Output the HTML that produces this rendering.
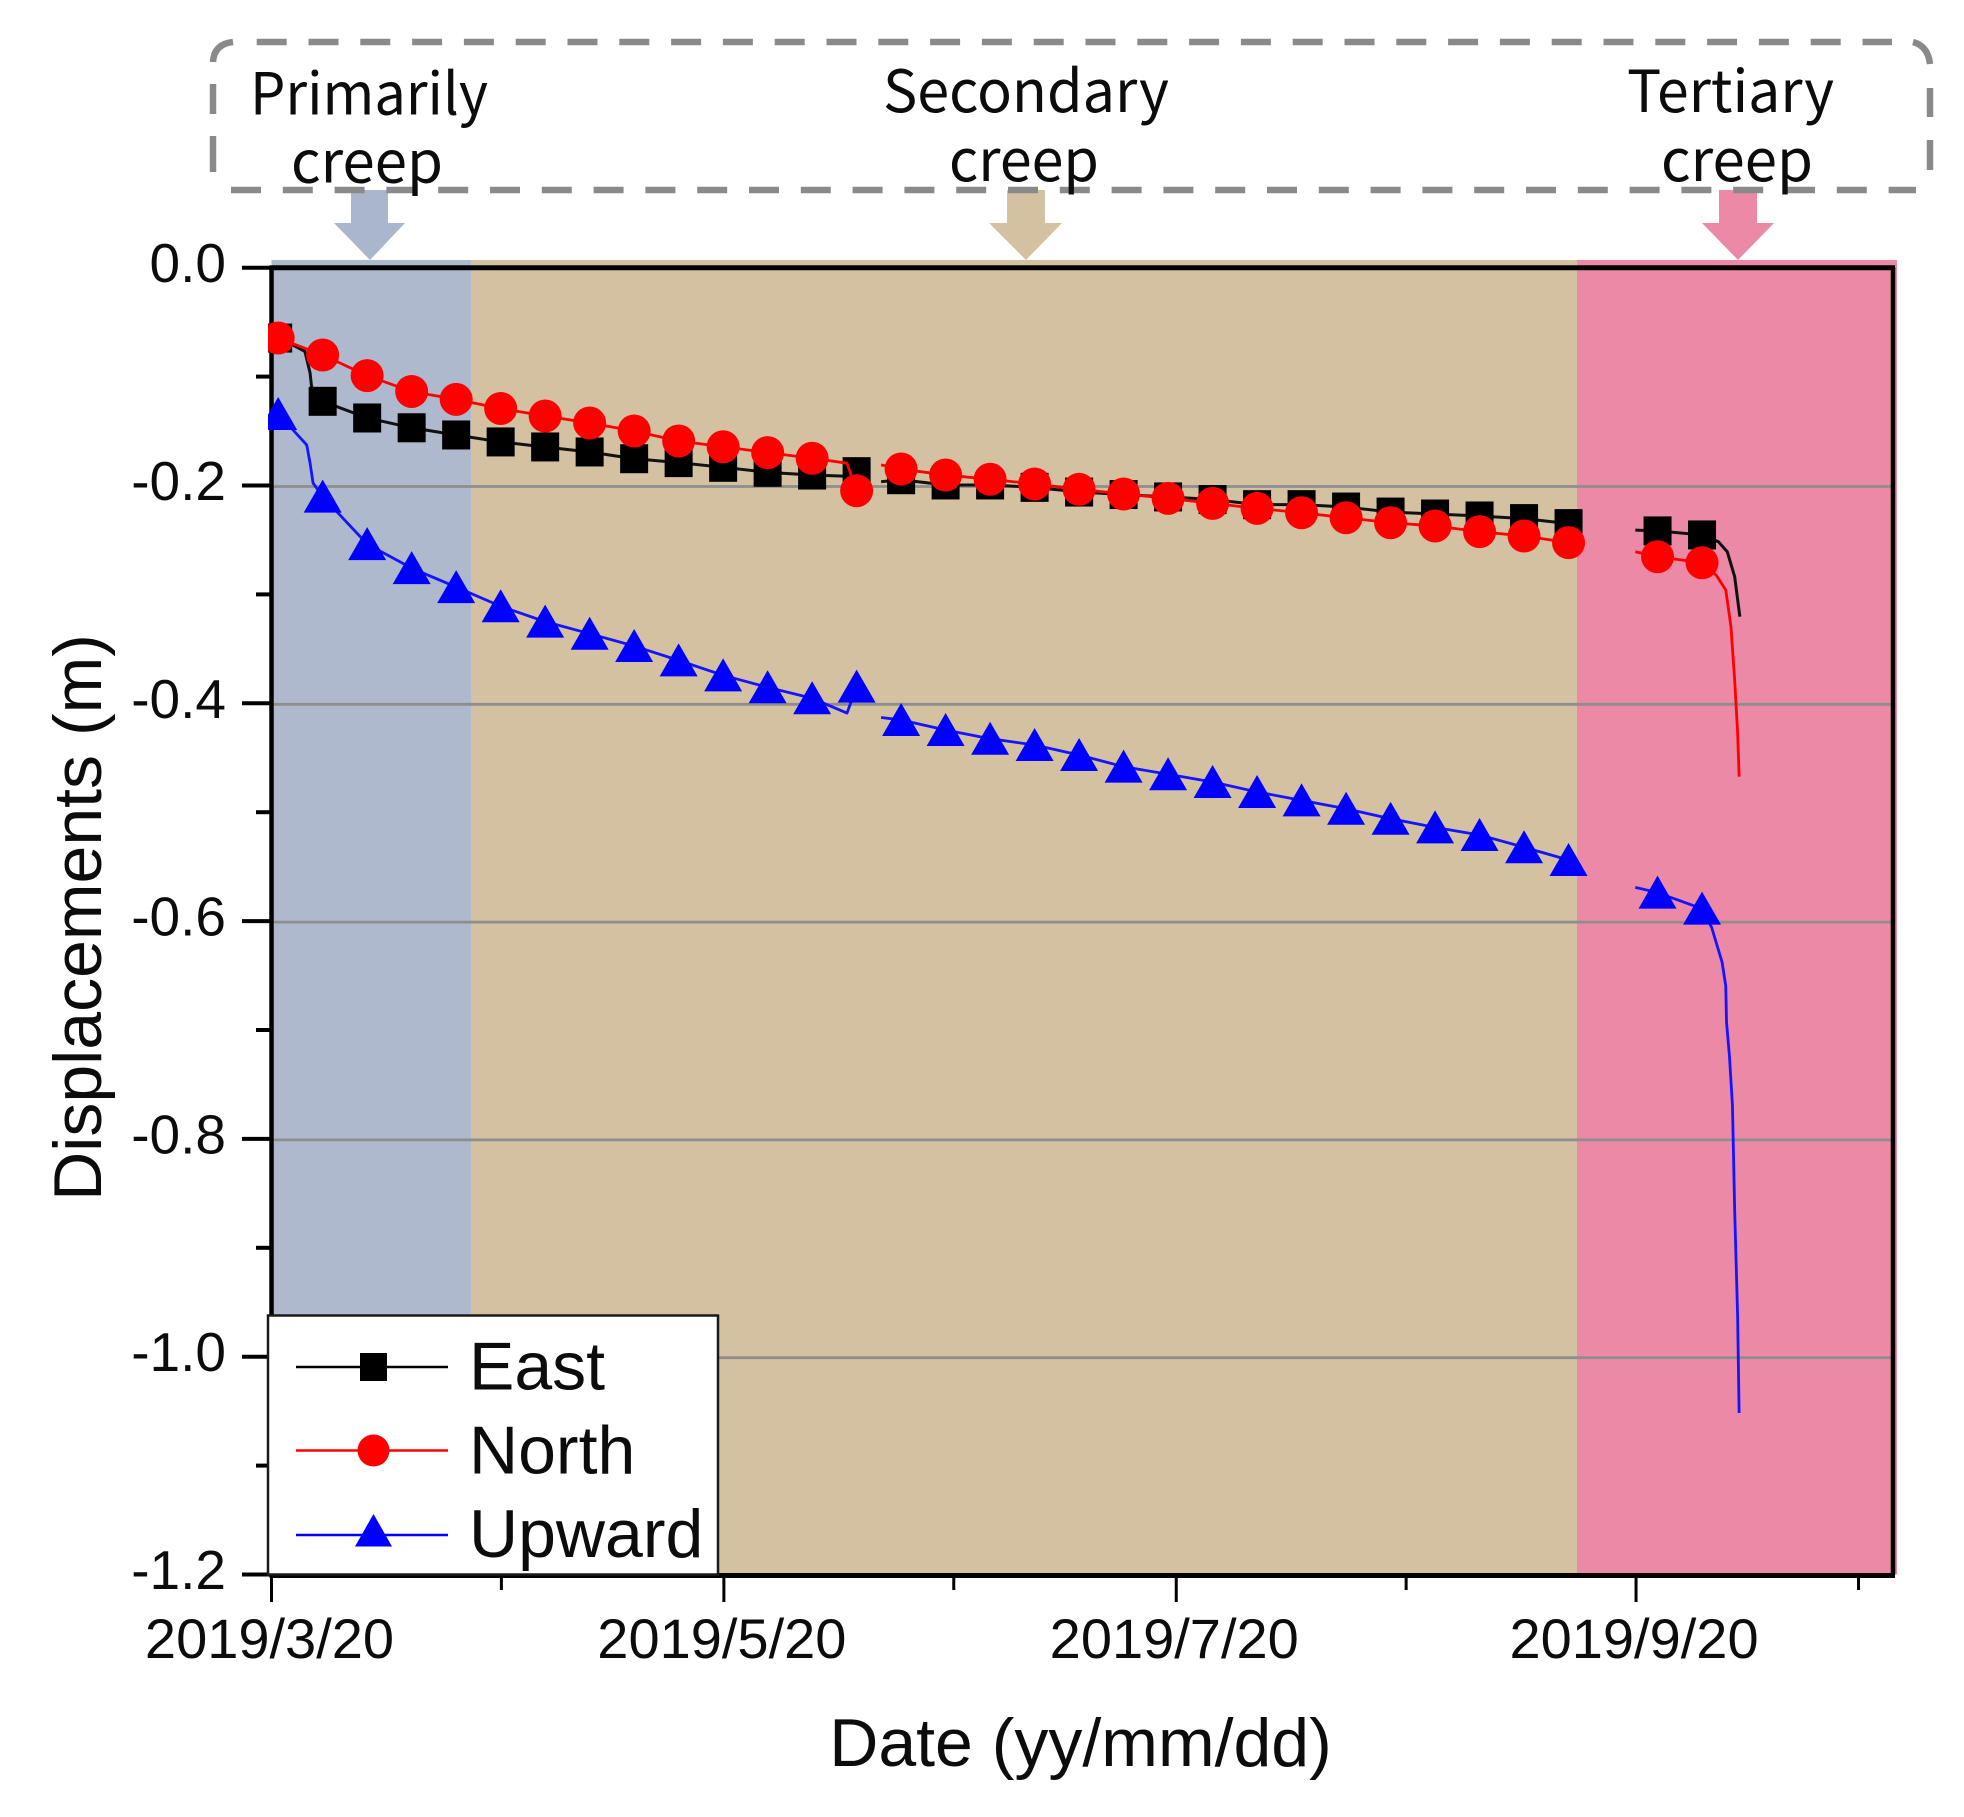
<!DOCTYPE html>
<html lang="en">
<head>
<meta charset="utf-8">
<title>Displacements over time with creep phases</title>
<style>
  html, body { margin: 0; padding: 0; background: #fff; }
  svg { display: block; }
  text { fill: #0c0c0c; font-family: "Liberation Sans", sans-serif; }
  .phase-text { font-family: "Noto Sans CJK KR", "Liberation Sans", sans-serif; font-size: 58px; }
</style>
</head>
<body>
<svg id="chart" xmlns="http://www.w3.org/2000/svg" width="1964" height="1817" viewBox="0 0 1964 1817">
  <defs>
    <clipPath id="plot-clip"><rect x="268" y="262" width="1630" height="1315"></rect></clipPath>
  </defs>

  <g id="arrows">
    <polygon fill="#a9b6cb" points="351,190 388,190 388,223 405,223 370,260 334,223 351,223"></polygon>
    <polygon fill="#d4c1a1" points="1007,190 1045,190 1045,223 1062,223 1026,260 989,223 1007,223"></polygon>
    <polygon fill="#ec89a6" points="1719,190 1757,190 1757,223 1774,223 1738,260 1702,223 1719,223"></polygon>
  </g>

  <g fill="none" stroke="#8a8a8a" stroke-width="6.5">
    <path d="M256.7 42 H1892" stroke-dasharray="30 21.8"></path>
    <path d="M231 190 H1916" stroke-dasharray="30 21.8"></path>
    <path d="M233 42 Q214 44 213 62"></path>
    <path d="M1913 42 Q1928 46 1930 64"></path>
    <path d="M213 84 V114 M213 136 V172"></path>
    <path d="M1930 88 V117 M1930 140 V170"></path>
  </g>

  <g>
    <text class="phase-text" x="250" y="114.5" textLength="238" lengthAdjust="spacingAndGlyphs">Primarily</text>
    <text class="phase-text" x="291" y="182.5" textLength="152" lengthAdjust="spacingAndGlyphs">creep</text>
    <text class="phase-text" x="883" y="112" textLength="286" lengthAdjust="spacingAndGlyphs">Secondary</text>
    <text class="phase-text" x="949" y="181" textLength="150" lengthAdjust="spacingAndGlyphs">creep</text>
    <text class="phase-text" x="1627" y="112" textLength="207" lengthAdjust="spacingAndGlyphs">Tertiary</text>
    <text class="phase-text" x="1661" y="181" textLength="152" lengthAdjust="spacingAndGlyphs">creep</text>
  </g>

  <g id="bands"></g>
  <g id="grid"></g>
  <g id="frame"></g>
  <g id="series" clip-path="url(#plot-clip)"></g>
  <g id="axes"></g>

  <text font-size="68" text-anchor="middle" transform="translate(101 917.5) rotate(-90)">Displacements (m)</text>
  <text font-size="68" text-anchor="middle" x="1080.5" y="1766">Date (yy/mm/dd)</text>

  <g>
    <rect x="268" y="1315.5" width="450" height="259" fill="#fff" stroke="#1a1a1a" stroke-width="2.5"></rect>
    <g>
      <line x1="296" x2="448" y1="1367" y2="1367" stroke="#000" stroke-width="2.6"></line>
      <rect x="360" y="1353" width="27" height="28" fill="#000"></rect>
      <text font-size="68" x="469" y="1389.5">East</text>
    </g>
    <g>
      <line x1="296" x2="448" y1="1450.5" y2="1450.5" stroke="#f00" stroke-width="2.6"></line>
      <circle cx="373.5" cy="1450.5" r="16" fill="#f00"></circle>
      <text font-size="68" x="469" y="1473.5">North</text>
    </g>
    <g>
      <line x1="296" x2="448" y1="1535" y2="1535" stroke="#00f" stroke-width="2.6"></line>
      <polygon points="373.5,1514 392,1546.5 355,1546.5" fill="#00f"></polygon>
      <text font-size="68" x="469" y="1557">Upward</text>
    </g>
  </g>
</svg>

<script>
// ---- Data ----
// Days are counted from 2019/3/20.
const bandEdgeDays = [0, 26.9, 176.04, 219.2];
const bandColors = ['#aeb9ce', '#d4c1a1', '#ec89a6'];
const bandNames = ['primary-creep-band', 'secondary-creep-band', 'tertiary-creep-band'];

const yMajorTicks = [0, -0.2, -0.4, -0.6, -0.8, -1.0, -1.2];
const yMajorLabels = ['0.0', '-0.2', '-0.4', '-0.6', '-0.8', '-1.0', '-1.2'];
const yMinorTicks = [-0.1, -0.3, -0.5, -0.7, -0.9, -1.1];
const xMajorDays = [0, 61, 122, 184];
const xMajorLabels = ['2019/3/20', '2019/5/20', '2019/7/20', '2019/9/20'];
const xMinorDays = [31, 92, 153, 214];

const markerDays = [0.9, 6.9, 12.9, 18.9, 24.9, 30.9, 36.9, 42.9, 48.9, 54.9, 60.9,
  66.9, 72.9, 78.9, 84.9, 90.9, 96.9, 102.9, 108.9, 114.9, 120.9, 126.9, 132.9,
  138.9, 144.9, 150.9, 156.9, 162.9, 168.9, 174.9, 180.9, 186.9, 192.9];

const eastValues = [-0.0646, -0.1227, -0.1380, -0.1470, -0.1536, -0.1600, -0.1646, -0.1692, -0.1754, -0.1790, -0.1833,
  -0.1879, -0.1904, -0.1873, -0.1947, -0.1995, -0.1995, -0.2017, -0.2060, -0.2083, -0.2105, -0.2129, -0.2176,
  -0.2176, -0.2198, -0.2244, -0.2262, -0.2280, -0.2304, -0.2350, null, -0.2417, -0.2454];
const northValues = [-0.0646, -0.0802, -0.0991, -0.1137, -0.1209, -0.1293, -0.1362, -0.1426, -0.1500, -0.1591, -0.1644,
  -0.1698, -0.1750, -0.2048, -0.1849, -0.1904, -0.1943, -0.1986, -0.2035, -0.2078, -0.2118, -0.2164, -0.2210,
  -0.2250, -0.2296, -0.2342, -0.2372, -0.2424, -0.2464, -0.2525, null, -0.2654, -0.2709];
const upwardValues = [-0.1343, -0.2102, -0.2538, -0.2759, -0.2933, -0.3109, -0.3250, -0.3361, -0.3474, -0.3606, -0.3743,
  -0.3853, -0.3954, -0.3847, -0.4153, -0.4245, -0.4325, -0.4383, -0.4475, -0.4582, -0.4652, -0.4723, -0.4814,
  -0.4891, -0.4968, -0.5060, -0.5139, -0.5209, -0.5322, -0.5439, null, -0.5739, -0.5886];

// Unmarked readings along each line (null = break in the record).
const eastLineDays = [2.9, 4.5, 5.2, 5.4, 77.6, 79.9, 82.2, 183.9, 195.1, 196.3, 197.3, 198.0];
const eastLineValues = [-0.0710, -0.0769, -0.0966, -0.1092, -0.1915, null, -0.1965, -0.2410, -0.2516, -0.2608, -0.2837, -0.3205];
const northLineDays = [77.6, 79.9, 82.2, 183.9, 194.8, 196.1, 196.8, 197.3, 197.7, 197.9];
const northLineValues = [-0.1795, null, -0.1811, -0.2608, -0.2822, -0.2960, -0.3297, -0.3786, -0.4273, -0.4674];
const upwardLineDays = [2.9, 4.75, 5.2, 5.6, 77.6, 79.9, 82.2, 183.9, 194.2, 195.6, 196.1, 196.2, 196.6, 197.0, 197.3, 197.7, 197.9];
const upwardLineValues = [-0.149, -0.1628, -0.1793, -0.1977, -0.409, null, -0.4130, -0.5690, -0.6059, -0.6376, -0.6596, -0.6927, -0.7245, -0.7689, -0.8653, -0.9633, -1.0517];

// ---- Axis functions ----
const X0 = 271.5, X1 = 1893, XMAX = 218.65;
const Y0 = 267.7, Y1 = 1574.5, YMIN = -1.2;
function xAxis(day) { return X0 + (day / XMAX) * (X1 - X0); }
function yAxis(v) { return Y0 + (v / YMIN) * (Y1 - Y0); }

const NS = 'http://www.w3.org/2000/svg';
function make(tag, parent, attrs) {
  const el = document.createElementNS(NS, tag);
  for (const k in attrs) el.setAttribute(k, attrs[k]);
  parent.appendChild(el);
  return el;
}

const bandsG = document.getElementById('bands');
const gridG = document.getElementById('grid');
const frameG = document.getElementById('frame');
const seriesG = document.getElementById('series');
const axesG = document.getElementById('axes');

// Phase bands
bandColors.forEach(function (color, i) {
  const r = make('rect', bandsG, {
    x: xAxis(bandEdgeDays[i]),
    y: 260,
    width: xAxis(bandEdgeDays[i + 1]) - xAxis(bandEdgeDays[i]),
    height: Y1 - 260,
    fill: color
  });
  
  
});

// Gridlines
yMajorTicks.forEach(function (v) {
  if (v === 0 || v === YMIN) return;
  const g = make('line', gridG, {
    x1: X0, x2: X1, y1: yAxis(v) + 1, y2: yAxis(v) + 1,
    stroke: '#8e8e8e', 'stroke-width': 2.8
  });
  
  
});

// Plot frame
const frameTop = make('line', frameG, { x1: X0 - 2, x2: X1 + 2, y1: Y0, y2: Y0, stroke: '#000', 'stroke-width': 5 });


const frameRight = make('line', frameG, { x1: X1, x2: X1, y1: Y0, y2: Y1, stroke: '#000', 'stroke-width': 4.5 });


const axisLeft = make('line', frameG, { x1: X0, x2: X0, y1: Y0, y2: Y1, stroke: '#000', 'stroke-width': 4.5 });



// Series
function mergePoints(values, lineDays, lineValues) {
  const pts = [];
  markerDays.forEach(function (d, i) { pts.push({ d: d, v: values[i] }); });
  lineDays.forEach(function (d, i) { pts.push({ d: d, v: lineValues[i] }); });
  pts.sort(function (a, b) { return a.d - b.d; });
  return pts;
}
function linePath(pts) {
  let path = '', pen = false;
  pts.forEach(function (p) {
    if (p.v === null) { pen = false; return; }
    path += (pen ? 'L' : 'M') + xAxis(p.d).toFixed(2) + ' ' + yAxis(p.v).toFixed(2) + ' ';
    pen = true;
  });
  return path;
}

// East
const eastPts = mergePoints(eastValues, eastLineDays, eastLineValues);
const eastLine = make('path', seriesG, { d: linePath(eastPts), fill: 'none', stroke: '#111', 'stroke-width': 3, 'stroke-linejoin': 'round' });


markerDays.forEach(function (d, i) {
  if (eastValues[i] === null) return;
  const m = make('rect', seriesG, { x: xAxis(d) - 14, y: yAxis(eastValues[i]) - 14.5, width: 28, height: 29, fill: '#000' });
  
  
});

// North
const northPts = mergePoints(northValues, northLineDays, northLineValues);
const northLine = make('path', seriesG, { d: linePath(northPts), fill: 'none', stroke: '#f00', 'stroke-width': 2.8, 'stroke-linejoin': 'round' });


markerDays.forEach(function (d, i) {
  if (northValues[i] === null) return;
  const m = make('circle', seriesG, { cx: xAxis(d), cy: yAxis(northValues[i]), r: 16.5, fill: '#f00' });
  
  
});

// Upward
const upwardPts = mergePoints(upwardValues, upwardLineDays, upwardLineValues);
const upwardLine = make('path', seriesG, { d: linePath(upwardPts), fill: 'none', stroke: '#1414ff', 'stroke-width': 2.8, 'stroke-linejoin': 'round' });


markerDays.forEach(function (d, i) {
  if (upwardValues[i] === null) return;
  const cx = xAxis(d), cy = yAxis(upwardValues[i]);
  const pts = cx + ',' + (cy - 17) + ' ' + (cx + 19) + ',' + (cy + 16) + ' ' + (cx - 19) + ',' + (cy + 16);
  const m = make('polygon', seriesG, { points: pts, fill: '#00f' });
  
  
});

// Y ticks and labels
yMajorTicks.forEach(function (v, i) {
  const t = make('line', axesG, { x1: 242, x2: X0, y1: yAxis(v), y2: yAxis(v), stroke: '#000', 'stroke-width': 4 });
  
  
  const l = make('text', axesG, { x: 226, y: yAxis(v) + 14.5, 'text-anchor': 'end', 'font-size': 55 });
  
  
  l.textContent = yMajorLabels[i];
});
yMinorTicks.forEach(function (v) {
  const t = make('line', axesG, { x1: 256, x2: X0, y1: yAxis(v), y2: yAxis(v), stroke: '#000', 'stroke-width': 4 });
  
  
});

// X axis, ticks and labels
const axisBottom = make('line', axesG, { x1: X0 - 2, x2: X1 + 2, y1: Y1 + 1, y2: Y1 + 1, stroke: '#000', 'stroke-width': 5 });


xMajorDays.forEach(function (d, i) {
  const t = make('line', axesG, { x1: xAxis(d), x2: xAxis(d), y1: Y1, y2: 1602, stroke: '#000', 'stroke-width': 3 });
  
  
  const l = make('text', axesG, { x: xAxis(d) - 2, y: 1658, 'text-anchor': 'middle', 'font-size': 56 });
  
  
  l.textContent = xMajorLabels[i];
});
xMinorDays.forEach(function (d) {
  const t = make('line', axesG, { x1: xAxis(d), x2: xAxis(d), y1: Y1, y2: 1590, stroke: '#000', 'stroke-width': 3 });
  
  
});
</script>
</body>
</html>
